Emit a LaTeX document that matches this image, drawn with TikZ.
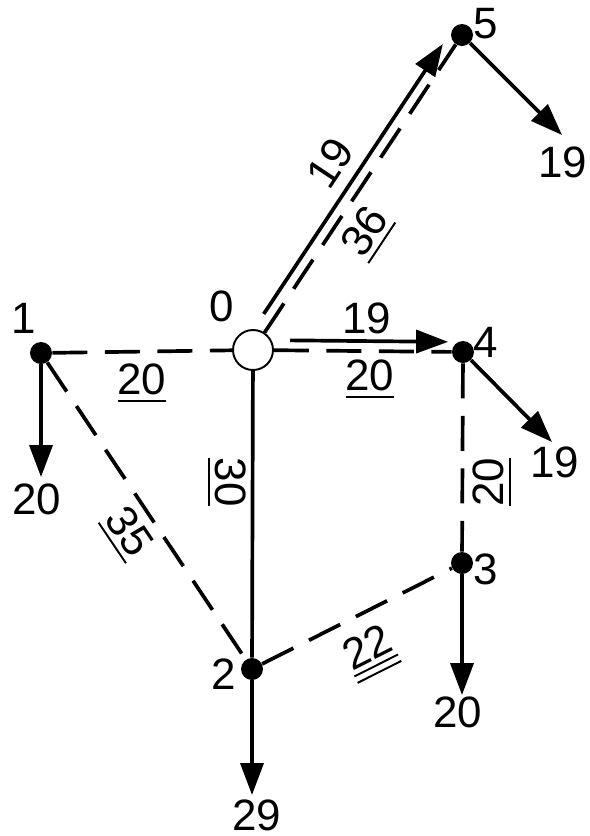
\documentclass[tikz,border=0pt]{standalone}
\usepackage{fontspec}
\setmainfont{Liberation Sans}
\usetikzlibrary{arrows.meta,calc}

\newcommand{\ul}[1]{\setbox0=\hbox{#1}\vtop{\copy0\kern2.5pt\hrule height 1.1pt width \wd0}}
\newcommand{\uul}[1]{\setbox0=\hbox{#1}\vtop{\copy0\kern2.5pt\hrule height 1.1pt width \wd0\kern3pt\hrule height 1.1pt width \wd0}}

\begin{document}
\begin{tikzpicture}[x=0.02cm, y=-0.02cm,
	every node/.style={font=\fontsize{25}{30}\selectfont, inner sep=0pt},
	>={Triangle[length=0.64cm,width=0.46cm]},
	vertex/.style={circle, fill=black, minimum size=0.44cm},
	source/.style={circle, draw, fill=white, line width=1.1pt, minimum size=0.8cm},
	edge/.style={line width=2.1pt},
	tree/.style={edge, dash pattern=on 0.7cm off 0.35cm},
	flow/.style={edge, ->}]
	\useasboundingbox (0,0) rectangle (590,836);
	% vertices
	\node[source] (n0) at (253,350) {};
	\node[vertex] (n1) at (41,353) {};
	\node[vertex] (n2) at (252,669) {};
	\node[vertex] (n3) at (462,563) {};
	\node[vertex] (n4) at (463,352) {};
	\node[vertex] (n5) at (462,35) {};
	\node (l0) at (222,306) {0};
	\node (l1) at (24,318) {1};
	\node (l2) at (224,674) {2};
	\node (l3) at (486,569) {3};
	\node (l4) at (486,342) {4};
	\node (l5) at (486,24) {5};
	% outflows
	\coordinate (t1) at (41,477);
	\coordinate (t2) at (252,795);
	\coordinate (t3) at (462,695);
	\coordinate (t4) at (552,442);
	\coordinate (t5) at (562,135);
	\draw[flow] (n1) -- (t1);
	\draw[flow] (n2) -- (t2);
	\draw[flow] (n3) -- (t3);
	\draw[flow] (n4) -- (t4);
	\draw[flow] (n5) -- (t5);
	\node (d1) at (37,499) {20};
	\node (d2) at (257,815) {29};
	\node (d3) at (458,712) {20};
	\node (d4) at (555,462) {19};
	\node (d5) at (563,162) {19};
	% tree edges
	\draw[tree] (n1) -- (n0);
	\draw[tree] (n0) -- (n4);
	\draw[tree] (n0) -- (n5);
	\draw[tree] (n1) -- (n2);
	\draw[tree] (n2) -- (n3);
	\draw[tree] (n4) -- (n3);
	\draw[edge] (n0) -- (n2);
	% flows along edges
	\coordinate (a4) at ($(n0)!0.2cm!90:(n4)$);
	\coordinate (b4) at ($(n4)!0.2cm!-90:(n0)$);
	\draw[flow, shorten <=0.74cm, shorten >=0.3cm] (a4) -- (b4);
	\coordinate (a5) at ($(n0)!0.22cm!90:(n5)$);
	\coordinate (b5) at ($(n5)!0.22cm!-90:(n0)$);
	\draw[flow, shorten <=0.72cm, shorten >=0.36cm] (a5) -- (b5);
	\node (f4) at (367,318) {19};
	\node[rotate=56.4] (f5) at (330,163) {19};
	% costs
	\node (c10) at (142,383) {\ul{20}};
	\node (c04) at (370,379) {\ul{20}};
	\node[rotate=56.4] (c05) at (367,233) {\ul{36}};
	\node[rotate=-90] (c02) at (227,482) {\ul{30}};
	\node[rotate=-56] (c12) at (127,533) {\ul{35}};
	\node[rotate=26.7] (c23) at (370,653) {\uul{22}};
	\node[rotate=90] (c43) at (492,482) {\ul{20}};
\end{tikzpicture}
\end{document}
